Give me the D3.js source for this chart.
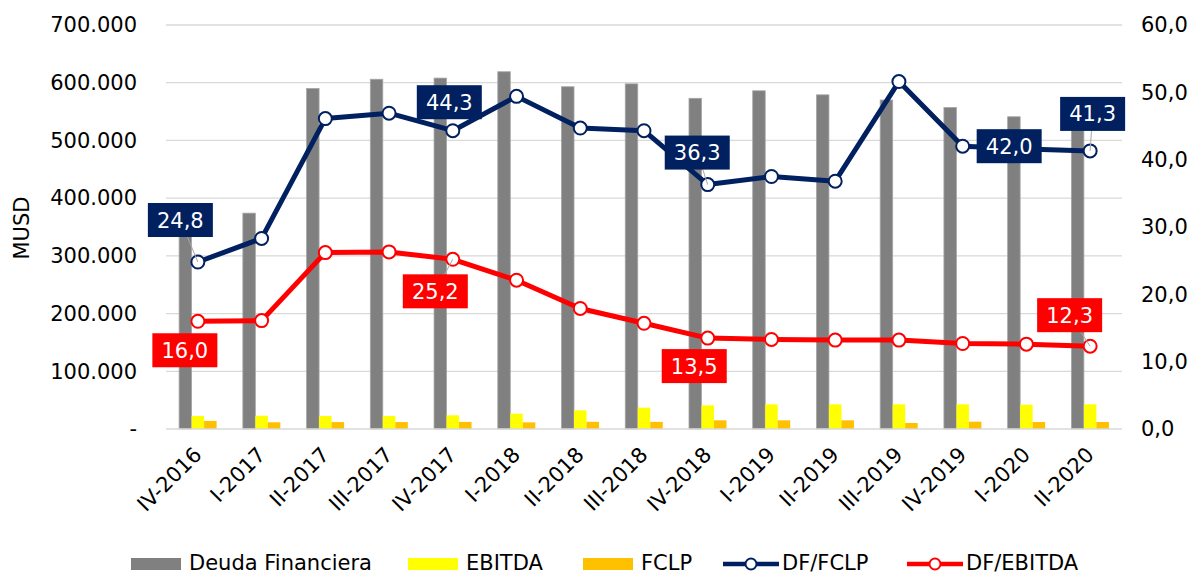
<!DOCTYPE html>
<html>
<head>
<meta charset="utf-8">
<script src="https://cdn.jsdelivr.net/npm/d3@7"></script>
<style>
  html, body { margin: 0; padding: 0; background: #fff; }
  svg text { font-family: "DejaVu Sans", Verdana, sans-serif; }
</style>
</head>
<body>
<svg id="chart" width="1194" height="574"></svg>
<script>
// ---------- data ----------
const categories = ["IV-2016","I-2017","II-2017","III-2017","IV-2017","I-2018","II-2018","III-2018","IV-2018","I-2019","II-2019","III-2019","IV-2019","I-2020","II-2020"];
const deudaFinanciera = [355000, 374000, 590000, 606000, 608000, 619000, 593000, 598000, 573000, 586000, 579000, 570000, 557000, 541000, 525000];
const ebitda = [22500, 23000, 22500, 22500, 23700, 26500, 32400, 37000, 41000, 42700, 42700, 42700, 42700, 42100, 42700];
const fclp = [14000, 11600, 12000, 12000, 12300, 11500, 12500, 12400, 15000, 15000, 15000, 10400, 12700, 12100, 12100];
const dfFclp = [24.8, 28.3, 46.1, 46.9, 44.3, 49.4, 44.7, 44.3, 36.3, 37.5, 36.8, 51.6, 42.0, 41.6, 41.3];
const dfEbitda = [16.0, 16.1, 26.2, 26.3, 25.2, 22.1, 17.9, 15.7, 13.5, 13.3, 13.2, 13.2, 12.7, 12.6, 12.3];
const leftTicks = [0, 100000, 200000, 300000, 400000, 500000, 600000, 700000];
const rightTicks = [0, 10, 20, 30, 40, 50, 60];
const barSeries = ["Deuda Financiera", "EBITDA", "FCLP"];
const lineSeries = ["DF/FCLP", "DF/EBITDA"];
const yAxisTitle = "MUSD";
// indices of points that carry a data label
const labelIdxFclp = [0, 4, 8, 12, 14];
const labelIdxEbitda = [0, 4, 8, 14];

// ---------- styles / layout ----------
const colors = {
  "Deuda Financiera": "#808080",
  "EBITDA": "#ffff00",
  "FCLP": "#ffc000",
  "DF/FCLP": "#002060",
  "DF/EBITDA": "#ff0000"
};
// label box offsets (box centre relative to point), and whether a leader line is drawn
const placeFclp = [[-17.5, -42, true], [-3.5, -28.5, false], [-10.5, -32, true], [46.5, 0, false], [2.5, -37, true]];
const placeEbitda = [[-13, 29, false], [-17.5, 32, true], [-13.5, 28, false], [-20.5, -31, true]];

const svg = d3.select("#chart");
const plot = { left: 166, right: 1122, top: 25, bottom: 429 };
const FONT = 21;

const loc = d3.formatLocale({ decimal: ",", thousands: ".", grouping: [3], currency: ["", ""] });
const fmtLeft = v => v === 0 ? "-" : loc.format(",.0f")(v);
const fmtRight = loc.format(".1f");

const x = d3.scaleBand().domain(categories).range([plot.left, plot.right]).paddingInner(0).paddingOuter(0);
const xSub = d3.scaleBand().domain(barSeries).range([0, 37.5]).padding(0);
const yL = d3.scaleLinear().domain([0, 700000]).range([plot.bottom, plot.top]);
const yR = d3.scaleLinear().domain([0, 60]).range([plot.bottom, plot.top]);
const cx = c => x(c) + x.bandwidth() / 2;

// gridlines
svg.append("g").selectAll("line").data(leftTicks.slice(1)).join("line")
  .attr("x1", plot.left).attr("x2", plot.right)
  .attr("y1", d => yL(d)).attr("y2", d => yL(d))
  .attr("stroke", "#d9d9d9").attr("stroke-width", 1.3);

// left axis
const gL = svg.append("g").attr("transform", `translate(137,0)`)
  .call(d3.axisLeft(yL).tickValues(leftTicks).tickFormat(fmtLeft).tickSize(0).tickPadding(0));
gL.select(".domain").remove();
gL.selectAll("text").attr("font-size", FONT).attr("fill", "#000").attr("font-family", "DejaVu Sans");

// right axis
const gR = svg.append("g").attr("transform", `translate(1141,0)`)
  .call(d3.axisRight(yR).tickValues(rightTicks).tickFormat(fmtRight).tickSize(0).tickPadding(0));
gR.select(".domain").remove();
gR.selectAll("text").attr("font-size", FONT).attr("fill", "#000").attr("font-family", "DejaVu Sans");

// y title
svg.append("text").attr("transform", "translate(29,228) rotate(-90)")
  .attr("text-anchor", "middle").attr("font-size", FONT).attr("fill", "#000").text(yAxisTitle);

// bars
const barData = categories.map((c, i) => ({ c, vals: [deudaFinanciera[i], ebitda[i], fclp[i]] }));
const gBars = svg.append("g");
barData.forEach(d => {
  barSeries.forEach((s, k) => {
    const x0 = cx(d.c) - 18.75 + xSub(s);
    gBars.append("rect")
      .attr("x", x0).attr("width", xSub.bandwidth())
      .attr("y", yL(d.vals[k])).attr("height", yL(0) - yL(d.vals[k]))
      .attr("fill", colors[s]);
  });
});
// light edges on grey bars
gBars.selectAll("rect").filter((d, i) => i % 3 === 0)
  .attr("stroke", "#a6a6a6").attr("stroke-width", 0.8);

// baseline
svg.append("line").attr("x1", plot.left).attr("x2", plot.right)
  .attr("y1", plot.bottom).attr("y2", plot.bottom)
  .attr("stroke", "#d9d9d9").attr("stroke-width", 1.5);

// category axis
const gX = svg.append("g").attr("transform", `translate(0,${plot.bottom})`)
  .call(d3.axisBottom(x).tickSize(0).tickPadding(0));
gX.select(".domain").remove();
gX.selectAll("text")
  .attr("font-size", FONT).attr("fill", "#000").attr("font-family", "DejaVu Sans")
  .attr("text-anchor", "end").attr("x", 0).attr("y", 0).attr("dy", 0)
  .attr("transform", "translate(5,27) rotate(-45)");

// lines
function drawLine(values, color) {
  const line = d3.line().x((d, i) => cx(categories[i])).y(d => yR(d));
  svg.append("path").datum(values).attr("d", line)
    .attr("fill", "none").attr("stroke", color).attr("stroke-width", 5)
    .attr("stroke-linejoin", "round");
  svg.append("g").selectAll("circle").data(values).join("circle")
    .attr("cx", (d, i) => cx(categories[i])).attr("cy", d => yR(d)).attr("r", 6.5)
    .attr("fill", "#fff").attr("stroke", color).attr("stroke-width", 2);
}
drawLine(dfEbitda, colors["DF/EBITDA"]);
drawLine(dfFclp, colors["DF/FCLP"]);

// data labels
function drawLabels(values, idxs, place, color) {
  const g = svg.append("g");
  idxs.forEach((i, k) => {
    const px = cx(categories[i]), py = yR(values[i]);
    const bx = px + place[k][0], by = py + place[k][1];
    if (place[k][2]) {
      g.append("line").attr("x1", px).attr("y1", py).attr("x2", bx).attr("y2", by)
        .attr("stroke", "#a6a6a6").attr("stroke-width", 1);
    }
  });
  idxs.forEach((i, k) => {
    const px = cx(categories[i]), py = yR(values[i]);
    const bx = px + place[k][0], by = py + place[k][1];
    g.append("rect").attr("x", bx - 32.5).attr("y", by - 17).attr("width", 65).attr("height", 34)
      .attr("fill", color);
    g.append("text").attr("x", bx).attr("y", by).attr("dy", "0.36em")
      .attr("text-anchor", "middle").attr("font-size", FONT).attr("fill", "#fff")
      .text(fmtRight(values[i]));
  });
}
drawLabels(dfFclp, labelIdxFclp, placeFclp, colors["DF/FCLP"]);
drawLabels(dfEbitda, labelIdxEbitda, placeEbitda, colors["DF/EBITDA"]);

// legend
const legendPos = [131, 408, 583, 723, 907];
const legendItems = barSeries.concat(lineSeries);
const gLeg = svg.append("g");
legendItems.forEach((s, k) => {
  const lx = legendPos[k];
  if (k < 3) {
    gLeg.append("rect").attr("x", lx).attr("y", 558).attr("width", 50).attr("height", 12).attr("fill", colors[s]);
    gLeg.append("text").attr("x", lx + 58).attr("y", 570).attr("font-size", FONT).attr("fill", "#000").text(s);
  } else {
    gLeg.append("line").attr("x1", lx).attr("x2", lx + 56).attr("y1", 564).attr("y2", 564)
      .attr("stroke", colors[s]).attr("stroke-width", 4.5);
    gLeg.append("circle").attr("cx", lx + 28).attr("cy", 564).attr("r", 5.5)
      .attr("fill", "#fff").attr("stroke", colors[s]).attr("stroke-width", 2);
    gLeg.append("text").attr("x", lx + 59).attr("y", 570).attr("font-size", FONT).attr("fill", "#000").text(s);
  }
});
</script>
</body>
</html>
